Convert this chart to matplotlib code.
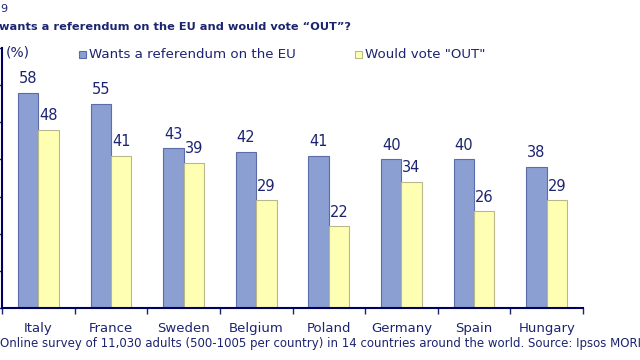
import matplotlib.pyplot as plt
import numpy as np

# data
countries = ["Italy", "France", "Sweden", "Belgium", "Poland", "Germany", "Spain", "Hungary"]
wants_ref = [58, 55, 43, 42, 41, 40, 40, 38]
vote_out = [48, 41, 39, 29, 22, 34, 26, 29]

navy = "#1c2470"
blue = "#8b9fd2"
blue_edge = "#5b6ca8"
yellow = "#ffffb3"
yellow_edge = "#b8b88a"

W, H = 640, 360
fig = plt.figure(figsize=(W / 100, H / 100), dpi=100)
ax = fig.add_axes([2 / W, 52 / H, 581 / W, 260 / H])

x = np.arange(len(countries))
bw = 0.28
b1 = ax.bar(x - bw / 2, wants_ref, bw, color=blue, edgecolor=blue_edge, linewidth=0.8)
b2 = ax.bar(x + bw / 2, vote_out, bw, color=yellow, edgecolor=yellow_edge, linewidth=0.8)

for rects, vals in ((b1, wants_ref), (b2, vote_out)):
    for r, v in zip(rects, vals):
        ax.text(r.get_x() + r.get_width() / 2, v + 1.8, str(v), ha="center", va="bottom",
                fontsize=10.5, color=navy)

ax.set_xlim(-0.5, len(countries) - 0.5)
ax.set_ylim(0, 70)
ax.set_yticks(np.arange(0, 71, 10))
ax.set_yticklabels([])
ax.tick_params(axis="y", direction="out", length=3, color=navy, width=1)

ax.set_xticks(x)
ax.set_xticklabels(countries, fontsize=9.5, color=navy)
ax.tick_params(axis="x", length=0, pad=10)
ax.set_xticks(np.arange(-0.5, len(countries), 1), minor=True)
ax.tick_params(axis="x", which="minor", direction="out", length=4, color=navy, width=1)

for s in ("top", "right"):
    ax.spines[s].set_visible(False)
for s in ("left", "bottom"):
    ax.spines[s].set_color("#000060")
    ax.spines[s].set_linewidth(1.5)

# header texts
fig.text(0, 1 - 9 / H, "9", fontsize=8, color=navy, va="center", ha="left")
fig.text(-1 / W, 1 - 27 / H, "wants a referendum on the EU and would vote \u201cOUT\u201d?",
         fontsize=8.2, fontweight="bold", color=navy, va="center", ha="left")
fig.text(6 / W, 1 - 52 / H, "(%)", fontsize=10, color=navy, va="center", ha="left")

# legend
fig.patches.append(plt.Rectangle((79 / W, 1 - 58 / H), 7 / W, 7 / H, transform=fig.transFigure,
                                 facecolor=blue, edgecolor=blue_edge, linewidth=0.8))
fig.text(89 / W, 1 - 54 / H, "Wants a referendum on the EU", fontsize=9.6, color=navy,
         va="center", ha="left")
fig.patches.append(plt.Rectangle((355 / W, 1 - 58 / H), 7 / W, 7 / H, transform=fig.transFigure,
                                 facecolor=yellow, edgecolor=yellow_edge, linewidth=0.8))
fig.text(365 / W, 1 - 54 / H, "Would vote \"OUT\"", fontsize=9.6, color=navy,
         va="center", ha="left")

fig.text(0, 1 - 343 / H,
         "Online survey of 11,030 adults (500-1005 per country) in 14 countries around the world. Source: Ipsos MORI",
         fontsize=8.45, color=navy, va="center", ha="left")

fig.savefig("out.png", dpi=100)
